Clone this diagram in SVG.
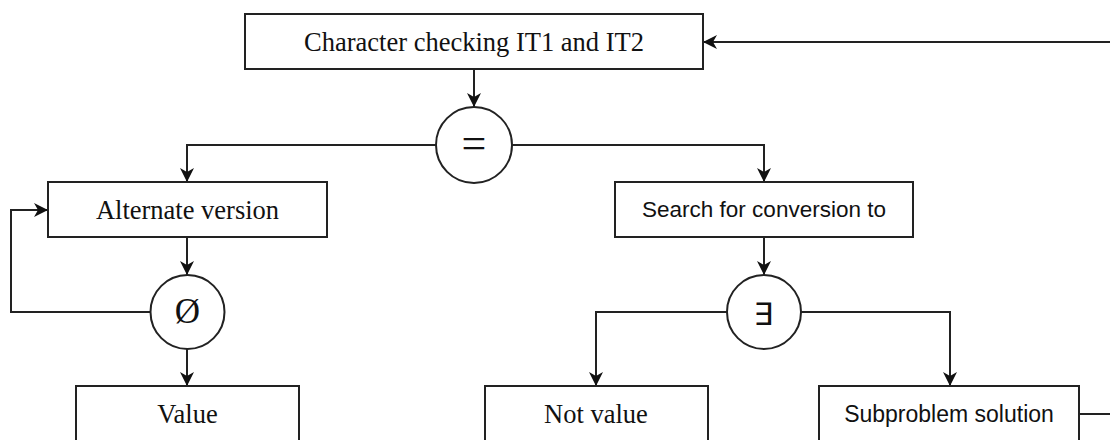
<svg xmlns="http://www.w3.org/2000/svg" width="1110" height="440" viewBox="0 0 1110 440">
<style>
.box{fill:#fff;stroke:#222;stroke-width:2}
.circ{fill:#fff;stroke:#222;stroke-width:2}
.serif{font-family:"Liberation Serif","Times New Roman",serif;font-size:26.5px;fill:#111;text-anchor:middle}
.sans{font-family:"Liberation Sans",Arial,sans-serif;font-size:22.5px;fill:#111;text-anchor:middle}
.sym{font-family:"DejaVu Sans",sans-serif;font-size:31px;fill:#111;text-anchor:middle}
.conn path{fill:none;stroke:#222;stroke-width:2}
</style>
<defs>
<marker id="arr" markerUnits="userSpaceOnUse" markerWidth="16" markerHeight="16" refX="14" refY="7" orient="auto">
<path d="M0,0 L14,7 L0,14 L4,7 Z" fill="#111"/>
</marker>
</defs>
<rect width="1110" height="440" fill="#fff"/>
<g class="conn" id="connectors">
<path d="M474,69 V107" marker-end="url(#arr)"/>
<path d="M436,145 H187 V182" marker-end="url(#arr)"/>
<path d="M512,145 H764 V182" marker-end="url(#arr)"/>
<path d="M187,237 V275" marker-end="url(#arr)"/>
<path d="M150,312 H11 V210 H48" marker-end="url(#arr)"/>
<path d="M187,349 V386" marker-end="url(#arr)"/>
<path d="M764,237 V275" marker-end="url(#arr)"/>
<path d="M727,312 H596 V386" marker-end="url(#arr)"/>
<path d="M801,312 H950 V386" marker-end="url(#arr)"/>
<path d="M1079,414 H1110"/>
<path d="M1110,42 H703" marker-end="url(#arr)"/>
</g>
<g id="top">
<rect class="box" x="245" y="14" width="458" height="55"/>
<text class="serif" x="474" y="50.5">Character checking IT1 and IT2</text>
</g>
<g id="eq">
<circle class="circ" cx="474" cy="145" r="38"/>
<text class="serif" x="474" y="157.5" style="font-size:44px">=</text>
</g>
<g id="alt">
<rect class="box" x="48" y="182" width="279" height="55"/>
<text class="serif" x="187.5" y="218.5">Alternate version</text>
</g>
<g id="empty">
<circle class="circ" cx="187.5" cy="312" r="37"/>
<text class="serif" x="187.5" y="323" style="font-size:35px">Ø</text>
</g>
<g id="value">
<rect class="box" x="76" y="386" width="223" height="60"/>
<text class="serif" x="187.5" y="422.5">Value</text>
</g>
<g id="search">
<rect class="box" x="615" y="182" width="298" height="55"/>
<text class="sans" x="764" y="217">Search for conversion to</text>
</g>
<g id="exists">
<circle class="circ" cx="764" cy="312" r="37"/>
<text class="sym" x="763" y="325">∃</text>
</g>
<g id="notvalue">
<rect class="box" x="485" y="386" width="223" height="60"/>
<text class="serif" x="596" y="423">Not value</text>
</g>
<g id="subproblem">
<rect class="box" x="819" y="386" width="260" height="60"/>
<text class="sans" x="949" y="422" style="font-size:23px">Subproblem solution</text>
</g>
</svg>
